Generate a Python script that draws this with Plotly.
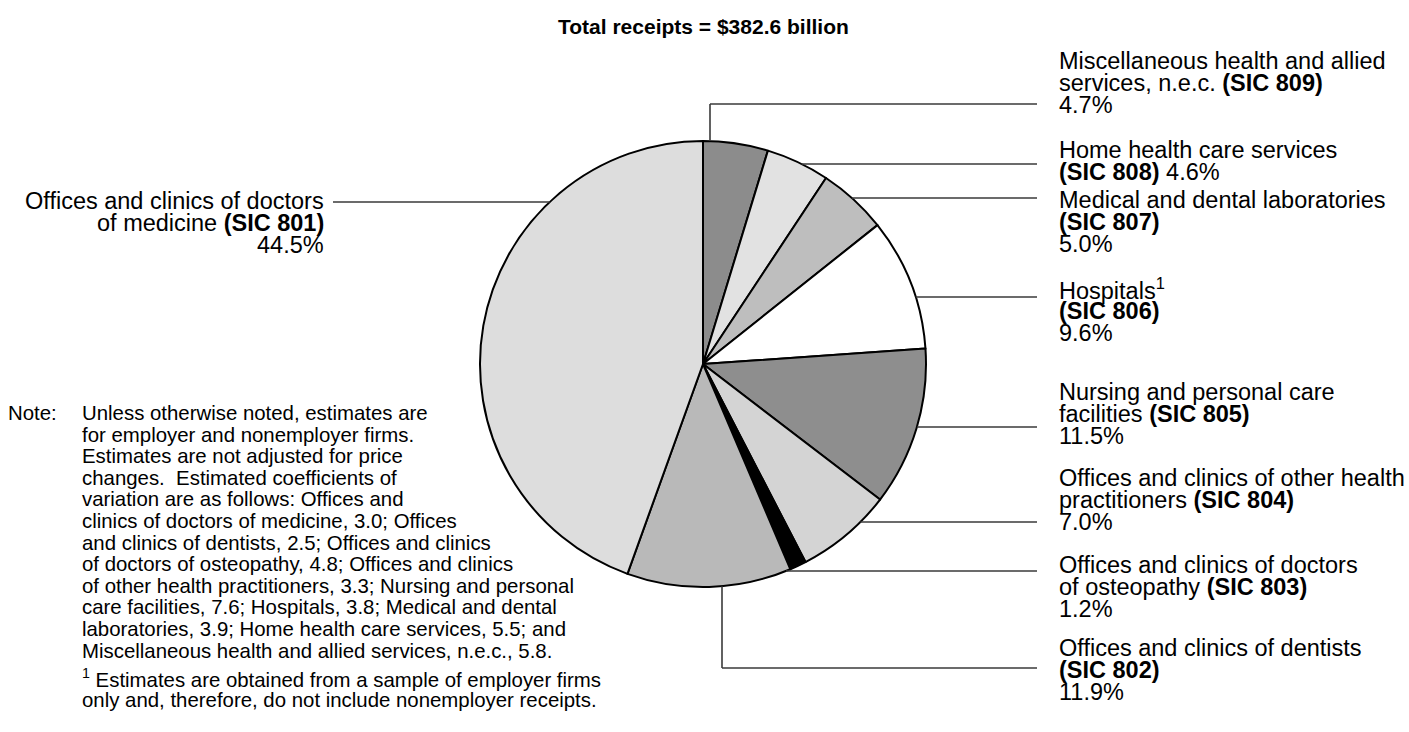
import math
import plotly.graph_objects as go

# ---------------- data ----------------
categories = [
    "Miscellaneous health and allied services, n.e.c.",
    "Home health care services",
    "Medical and dental laboratories",
    "Hospitals",
    "Nursing and personal care facilities",
    "Offices and clinics of other health practitioners",
    "Offices and clinics of doctors of osteopathy",
    "Offices and clinics of dentists",
    "Offices and clinics of doctors of medicine",
]
sic_codes = ["809", "808", "807", "806", "805", "804", "803", "802", "801"]
shares = [4.7, 4.6, 5.0, 9.6, 11.5, 7.0, 1.2, 11.9, 44.5]
fill_colors = ["#8c8c8c", "#e2e2e2", "#bebebe", "#ffffff", "#8e8e8e",
               "#d4d4d4", "#000000", "#b9b9b9", "#dddddd"]

title_text = "Total receipts = $382.6 billion"

note_lines = [
    "Unless otherwise noted, estimates are",
    "for employer and nonemployer firms.",
    "Estimates are not adjusted for price",
    "changes.  Estimated coefficients of",
    "variation are as follows: Offices and",
    "clinics of doctors of medicine, 3.0; Offices",
    "and clinics of dentists, 2.5; Offices and clinics",
    "of doctors of osteopathy, 4.8; Offices and clinics",
    "of other health practitioners, 3.3; Nursing and personal",
    "care facilities, 7.6; Hospitals, 3.8; Medical and dental",
    "laboratories, 3.9; Home health care services, 5.5; and",
    "Miscellaneous health and allied services, n.e.c., 5.8.",
]
footnote_lines = [
    "<sup>1</sup> Estimates are obtained from a sample of employer firms",
    "only and, therefore, do not include nonemployer receipts.",
]

# ---------------- layout constants ----------------
W, H = 1409, 732
CX, CY, R = 703, 364, 223
FONT = "Liberation Sans, Arial, sans-serif"
LABEL_SIZE = 23.5
NOTE_SIZE = 20.4
ROW = 22.0
LINE_COLOR = "#3a3a3a"


def px(x):
    return x / W


def py(y):
    return 1 - y / H


def pct(v):
    return f"{v:.1f}%"


def bsic(code):
    return f"<b>(SIC {code})</b>"


# label text rows for each slice (built from the data arrays)
label_rows = {
    "809": ["Miscellaneous health and allied", f"services, n.e.c. {bsic('809')}", pct(shares[0])],
    "808": ["Home health care services", f"{bsic('808')} {pct(shares[1])}"],
    "807": ["Medical and dental laboratories", bsic("807"), pct(shares[2])],
    "806": ["Hospitals<sup>1</sup>", bsic("806"), pct(shares[3])],
    "805": ["Nursing and personal care", f"facilities {bsic('805')}", pct(shares[4])],
    "804": ["Offices and clinics of other health", f"practitioners {bsic('804')}", pct(shares[5])],
    "803": ["Offices and clinics of doctors", f"of osteopathy {bsic('803')}", pct(shares[6])],
    "802": ["Offices and clinics of dentists", bsic("802"), pct(shares[7])],
    "801": ["Offices and clinics of doctors", f"of medicine {bsic('801')}", pct(shares[8])],
}
# first-row y (px) of each label block
label_top = {"809": 61, "808": 150, "807": 200, "806": 289, "805": 392,
             "804": 478, "803": 565, "802": 648, "801": 201}
# leader line y (px) for horizontal right-hand lines
leader_y = {"809": 104, "808": 164, "807": 198, "806": 297, "805": 427,
            "804": 522, "803": 571, "802": 668}
RIGHT_LABEL_X = 1057
LINE_END_X = 1037

fig = go.Figure()
fig.add_trace(go.Pie(
    labels=categories,
    values=shares,
    sort=False,
    direction="clockwise",
    rotation=0,
    textinfo="none",
    hoverinfo="label+percent",
    showlegend=False,
    marker=dict(colors=fill_colors, line=dict(color="black", width=2)),
    domain=dict(x=[px(CX - R), px(CX + R)], y=[py(CY + R), py(CY - R)]),
))

annotations = []
shapes = []

annotations.append(dict(
    x=px(CX), y=py(27), xref="paper", yref="paper", text=f"<b>{title_text}</b>",
    showarrow=False, xanchor="center", yanchor="middle",
    font=dict(family=FONT, size=21, color="black")))

for code, rows in label_rows.items():
    for i, t in enumerate(rows):
        if code == "801":
            annotations.append(dict(
                x=px(326), y=py(label_top[code] + i * ROW), xref="paper", yref="paper",
                text=t, showarrow=False, xanchor="right", yanchor="middle",
                font=dict(family=FONT, size=LABEL_SIZE, color="black")))
        else:
            annotations.append(dict(
                x=px(RIGHT_LABEL_X), y=py(label_top[code] + i * ROW), xref="paper", yref="paper",
                text=t, showarrow=False, xanchor="left", yanchor="middle",
                font=dict(family=FONT, size=LABEL_SIZE, color="black")))


def line(x0, y0, x1, y1):
    shapes.append(dict(type="line", xref="paper", yref="paper",
                       x0=px(x0), y0=py(y0), x1=px(x1), y1=py(y1),
                       line=dict(color=LINE_COLOR, width=1.6)))


for code, yv in leader_y.items():
    if code == "809":
        vx = 710
        ytop = CY - math.sqrt(R * R - (vx - CX) ** 2)
        line(vx, ytop, vx, yv)
        line(vx, yv, LINE_END_X, yv)
    elif code == "802":
        vx = 722
        ybot = CY + math.sqrt(R * R - (vx - CX) ** 2)
        line(vx, ybot, vx, yv)
        line(vx, yv, LINE_END_X, yv)
    else:
        xs = CX + math.sqrt(max(R * R - (yv - CY) ** 2, 0))
        line(xs, yv, LINE_END_X, yv)

# left leader for 801
ly = 202
line(333, ly, CX - math.sqrt(R * R - (ly - CY) ** 2), ly)

# note block
annotations.append(dict(
    x=px(6), y=py(413), xref="paper", yref="paper", text="Note:",
    showarrow=False, xanchor="left", yanchor="middle",
    font=dict(family=FONT, size=NOTE_SIZE, color="black")))
for i, t in enumerate(note_lines):
    annotations.append(dict(
        x=px(80), y=py(413 + i * 21.6), xref="paper", yref="paper", text=t,
        showarrow=False, xanchor="left", yanchor="middle",
        font=dict(family=FONT, size=NOTE_SIZE, color="black")))
for i, t in enumerate(footnote_lines):
    annotations.append(dict(
        x=px(80), y=py(678 + i * 21.6), xref="paper", yref="paper", text=t,
        showarrow=False, xanchor="left", yanchor="middle",
        font=dict(family=FONT, size=NOTE_SIZE, color="black")))

fig.update_layout(
    width=W, height=H,
    margin=dict(l=0, r=0, t=0, b=0),
    paper_bgcolor="white", plot_bgcolor="white",
    annotations=annotations, shapes=shapes,
    showlegend=False,
)

fig.write_html("out.html", config={"displayModeBar": False},
               post_script="document.body.style.margin='0';")
